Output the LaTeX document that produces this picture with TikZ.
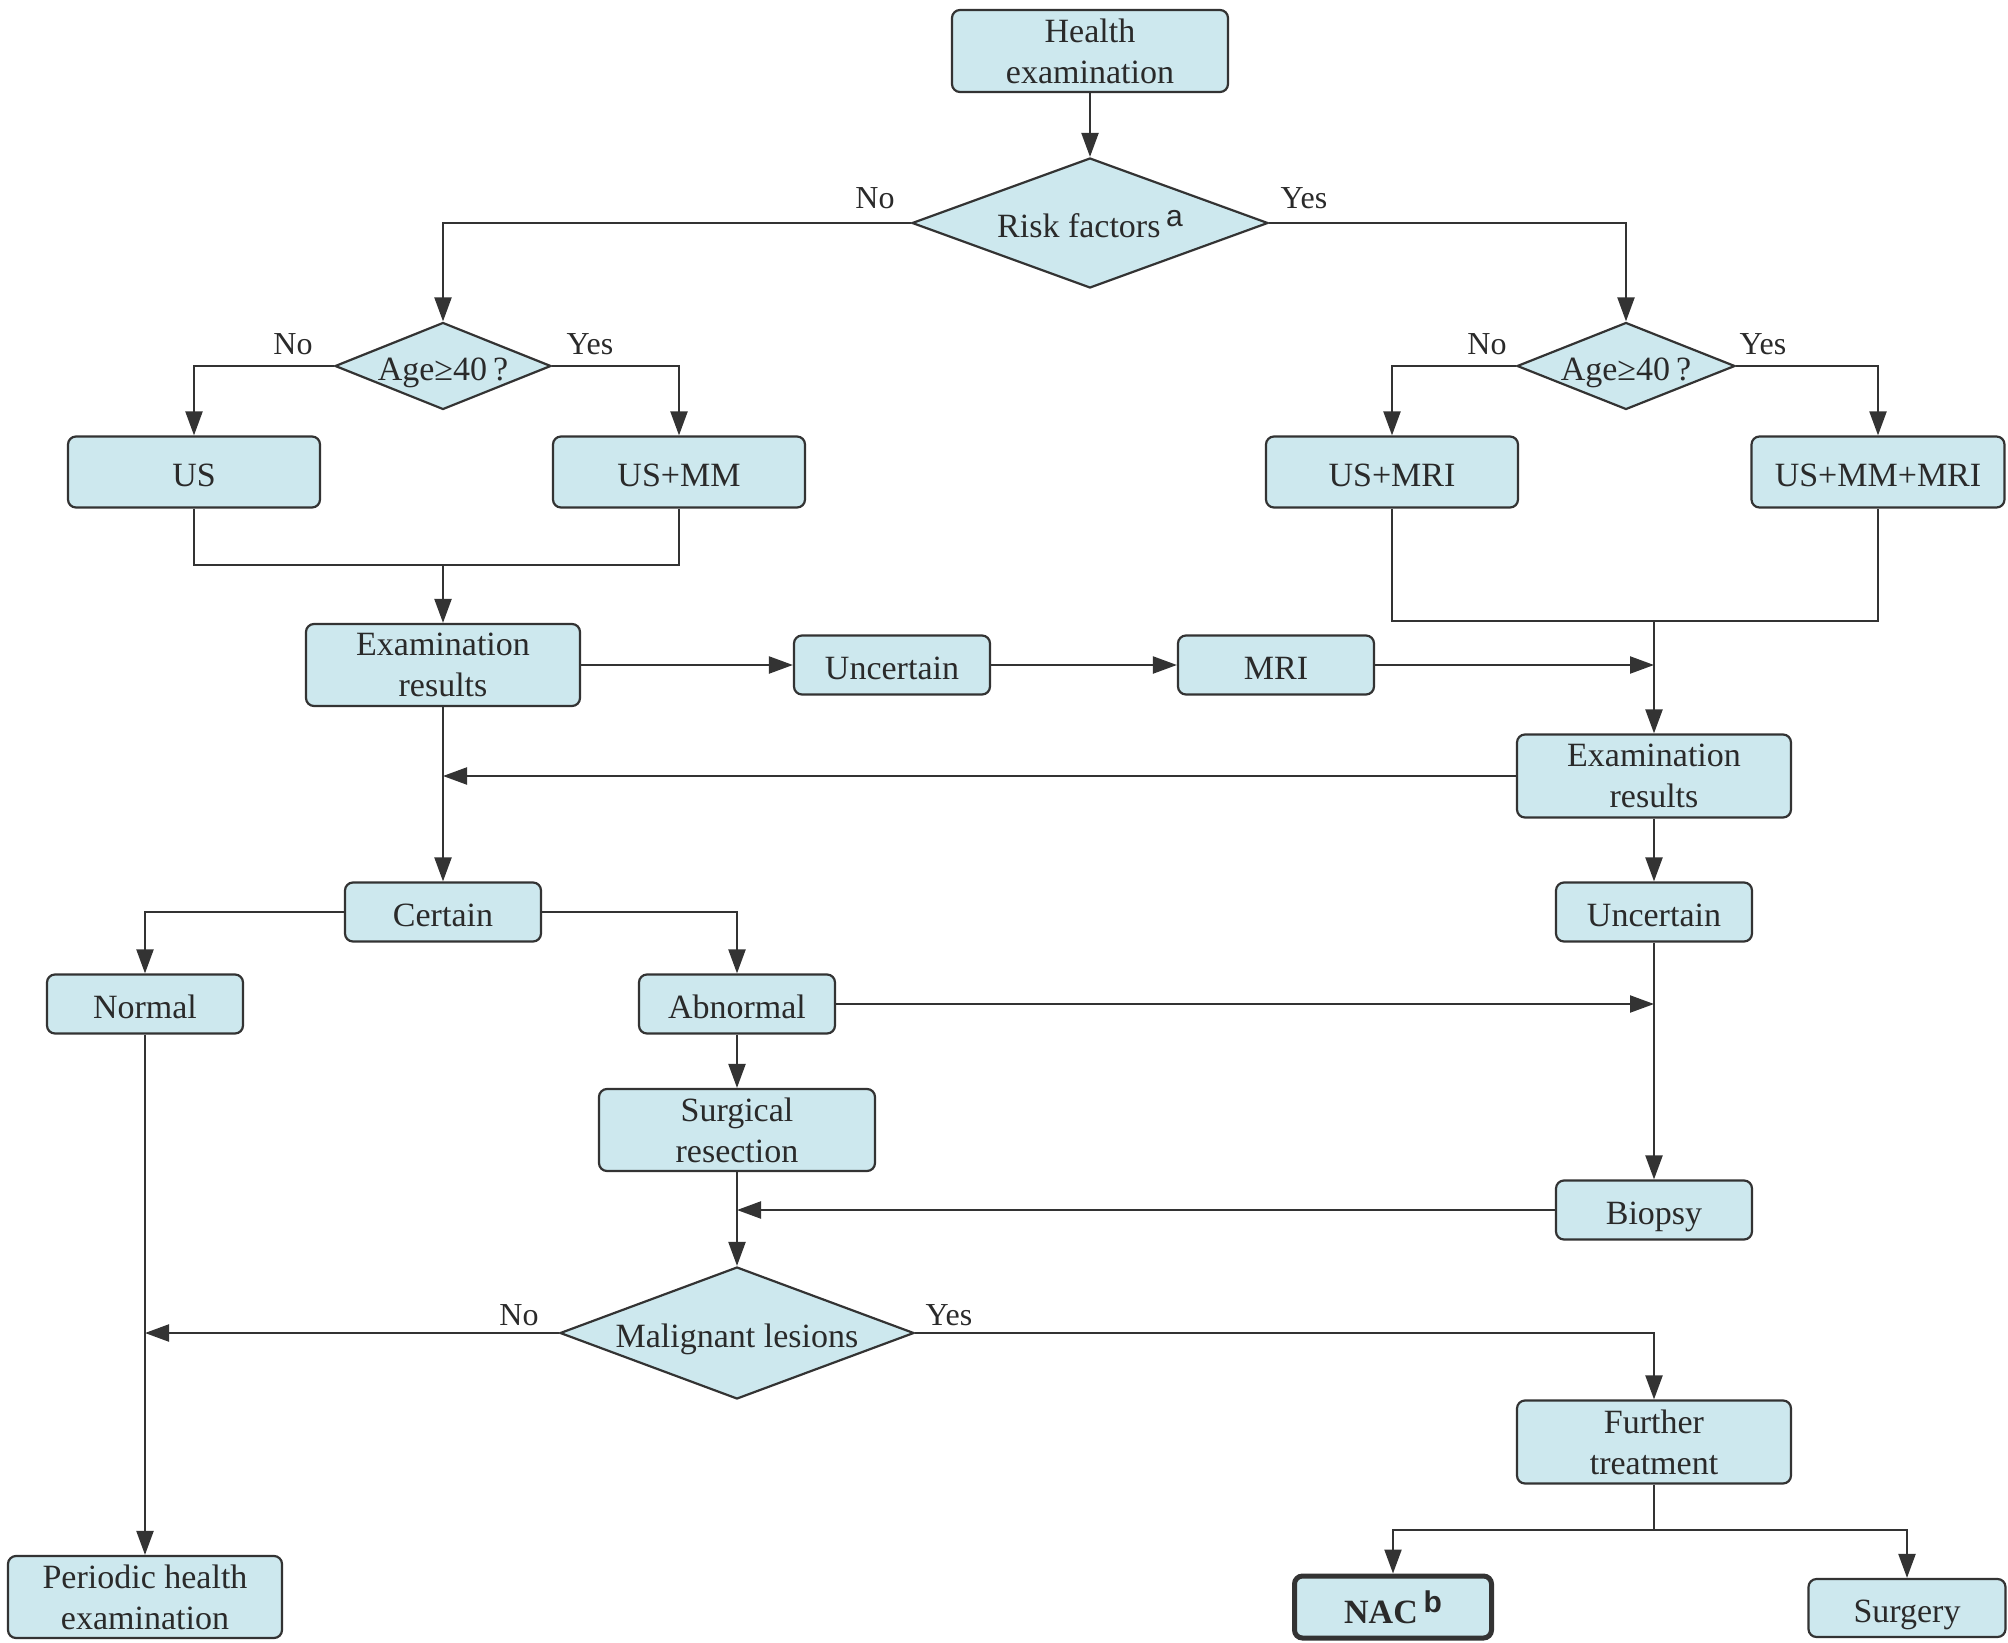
\documentclass[tikz,border=0pt]{standalone}
\usepackage{fontspec}
\setmainfont{Liberation Serif}
\setsansfont{Liberation Sans}
\usetikzlibrary{shapes.geometric,arrows.meta}
\definecolor{boxc}{HTML}{CDE8EE}
\definecolor{linec}{HTML}{333333}
\definecolor{txtc}{HTML}{2A2A2A}
\newcommand{\supa}[1]{\raisebox{11pt}{\sffamily\fontsize{30}{30}\selectfont #1}}
\tikzset{
  base/.style={draw=linec, fill=boxc, line width=2.2pt, inner sep=0pt, align=center,
    text=txtc, font=\fontsize{34}{41}\selectfont},
  box/.style={base, rounded corners=8pt, minimum width=#1},
  box/.default=196,
  sl/.style={text height=31pt, text depth=3pt},
  dia/.style={base, diamond, sl},
  arr/.style={draw=linec, line width=2.2pt, -{Triangle[length=24pt,width=17pt]}},
  ln/.style={draw=linec, line width=2.2pt},
  lab/.style={text=txtc, font=\fontsize{32}{36}\selectfont, inner sep=0pt}
}
\begin{document}
\begin{tikzpicture}[x=1pt,y=-1pt]
\useasboundingbox (0,0) rectangle (2008,1643);
% nodes
\node[box=276, minimum height=82] (he) at (1090,51) {Health\\examination};
\node[dia, minimum width=356, minimum height=130, aspect=2.74] (risk) at (1090,223) {Risk factors\,\supa{a}};
\node[dia, minimum width=216, minimum height=87, aspect=2.48] (ageL) at (443,366) {Age≥40\hspace{6pt}?};
\node[dia, minimum width=218, minimum height=87, aspect=2.5] (ageR) at (1626,366) {Age≥40\hspace{6pt}?};
\node[box=252, minimum height=71, sl] (us) at (194,472) {US};
\node[box=252, minimum height=71, sl] (usmm) at (679,472) {US+MM};
\node[box=252, minimum height=71, sl] (usmri) at (1392,472) {US+MRI};
\node[box=253, minimum height=71, sl] (usmmmri) at (1878,472) {US+MM+MRI};
\node[box=274, minimum height=82] (exL) at (443,665) {Examination\\results};
\node[box, minimum height=59, sl] (unc1) at (892,665) {Uncertain};
\node[box, minimum height=59, sl] (mri) at (1276,665) {MRI};
\node[box=274, minimum height=83] (exR) at (1654,776) {Examination\\results};
\node[box, minimum height=59, sl] (cert) at (443,912) {Certain};
\node[box, minimum height=59, sl] (uncR) at (1654,912) {Uncertain};
\node[box, minimum height=59, sl] (normal) at (145,1004) {Normal};
\node[box, minimum height=59, sl] (abn) at (737,1004) {Abnormal};
\node[box=276, minimum height=82] (surg) at (737,1130) {Surgical\\resection};
\node[box, minimum height=59, sl] (biopsy) at (1654,1210) {Biopsy};
\node[dia, minimum width=354, minimum height=132, aspect=2.68] (mal) at (737,1333) {Malignant lesions};
\node[box=274, minimum height=82] (periodic) at (145,1597) {Periodic health\\examination};
\node[box=274, minimum height=83] (further) at (1654,1442) {Further\\treatment};
\node[box=197, minimum height=62, line width=5pt, font=\fontsize{34}{41}\selectfont\bfseries] (nac) at (1393,1607) {NAC\,\supa{b}};
\node[box=197, minimum height=58, sl] (surgery) at (1907,1608) {Surgery};
% junction coordinates
\coordinate (jL) at (443,565);
\coordinate (jR) at (1654,621);
\coordinate (jF) at (1654,1530);
% connectors
\draw[arr] (he) -- (risk);
\draw[arr] (risk.west) -| (ageL.north);
\draw[arr] (risk.east) -| (ageR.north);
\draw[arr] (ageL.west) -| (us.north);
\draw[arr] (ageL.east) -| (usmm.north);
\draw[arr] (ageR.west) -| (usmri.north);
\draw[arr] (ageR.east) -| (usmmmri.north);
\draw[ln] (us.south) |- (jL) -| (usmm.south);
\draw[arr] (jL) -- (exL.north);
\draw[ln] (usmri.south) |- (jR) -| (usmmmri.south);
\draw[arr] (jR) -- (exR.north);
\draw[arr] (exL.east) -- (unc1.west);
\draw[arr] (unc1.east) -- (mri.west);
\draw[arr] (mri.east) -- (jR |- mri.east);
\draw[arr] (exR.west) -- (exL.south |- exR.west);
\draw[arr] (exL.south) -- (cert.north);
\draw[arr] (cert.west) -| (normal.north);
\draw[arr] (cert.east) -| (abn.north);
\draw[arr] (exR.south) -- (uncR.north);
\draw[arr] (abn.east) -- (uncR.south |- abn.east);
\draw[arr] (uncR.south) -- (biopsy.north);
\draw[arr] (abn.south) -- (surg.north);
\draw[arr] (biopsy.west) -- (surg.south |- biopsy.west);
\draw[arr] (surg.south) -- (mal.north);
\draw[arr] (mal.west) -- (normal.south |- mal.west);
\draw[arr] (normal.south) -- (periodic.north);
\draw[arr] (mal.east) -| (further.north);
\draw[ln] (further.south) -- (jF);
\draw[arr] (jF) -| (nac.north);
\draw[arr] (jF) -| (surgery.north);
% labels
\node[lab] (l1) at (875,198) {No};
\node[lab] (l2) at (1304,198) {Yes};
\node[lab] (l3) at (293,344) {No};
\node[lab] (l4) at (590,344) {Yes};
\node[lab] (l5) at (1487,344) {No};
\node[lab] (l6) at (1763,344) {Yes};
\node[lab] (l7) at (519,1315) {No};
\node[lab] (l8) at (949,1315) {Yes};
\end{tikzpicture}
\end{document}
